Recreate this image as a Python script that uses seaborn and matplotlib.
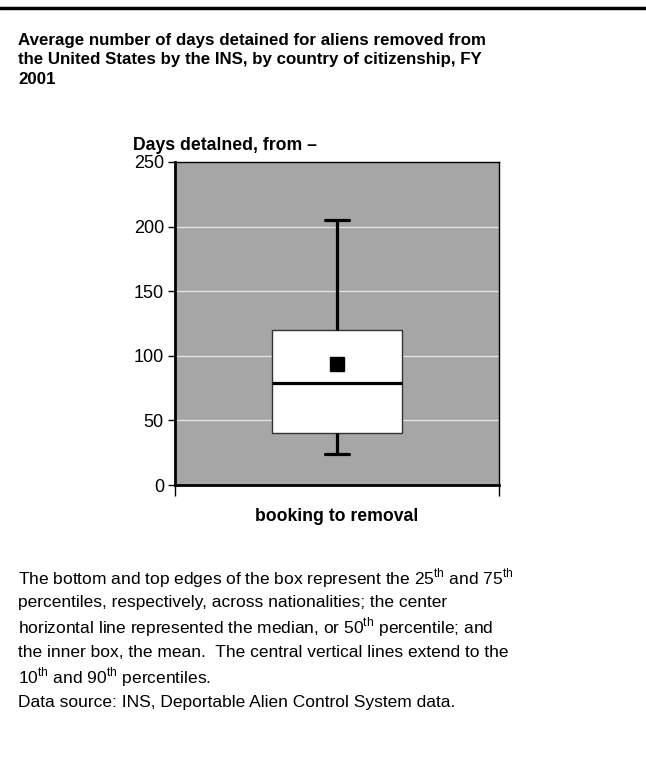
import matplotlib
matplotlib.use('Agg')
import matplotlib.pyplot as plt
from matplotlib.lines import Line2D
import seaborn as sns
import pandas as pd

# Values (days detained, booking to removal)
category = 'booking to removal'
p10 = 24
p25 = 40
p50 = 79
p75 = 120
p90 = 205
mean_days = 93.5

title_lines = [
    'Average number of days detained for aliens removed from',
    'the United States by the INS, by country of citizenship, FY',
    '2001',
]
note_lines = [
    r'The bottom and top edges of the box represent the 25$^{\mathrm{th}}$ and 75$^{\mathrm{th}}$',
    'percentiles, respectively, across nationalities; the center',
    r'horizontal line represented the median, or 50$^{\mathrm{th}}$ percentile; and',
    'the inner box, the mean.  The central vertical lines extend to the',
    r'10$^{\mathrm{th}}$ and 90$^{\mathrm{th}}$ percentiles.',
    'Data source: INS, Deportable Alien Control System data.',
]
yticks = [0, 50, 100, 150, 200, 250]

# five summary points -> quartiles fall exactly on them, whiskers at min/max
df = pd.DataFrame({'cat': [category] * 5, 'days': [p10, p25, p50, p75, p90]})

sns.set_style('white')
plt.rcParams['font.family'] = ['Liberation Sans', 'DejaVu Sans']
plt.rcParams['mathtext.fontset'] = 'custom'
plt.rcParams['mathtext.rm'] = 'Liberation Sans'
plt.rcParams['text.color'] = 'black'
plt.rcParams['axes.labelcolor'] = 'black'
plt.rcParams['xtick.color'] = 'black'
plt.rcParams['ytick.color'] = 'black'

fig = plt.figure(figsize=(6.46, 7.58), dpi=100)
ax = fig.add_axes([175 / 646, 1 - 485 / 758, 324 / 646, 323 / 758])
ax.set_facecolor('#a6a6a6')

sns.boxplot(data=df, x='cat', y='days', whis=(0, 100), width=0.4, ax=ax,
            showfliers=False,
            boxprops={'facecolor': 'white', 'edgecolor': '#333333', 'linewidth': 1.0},
            medianprops={'color': 'black', 'linewidth': 2.3},
            whiskerprops={'color': 'black', 'linewidth': 2.3},
            capprops={'color': 'black', 'linewidth': 2.3})
# shorten caps to match the original
for ln in ax.lines:
    xs = ln.get_xdata()
    ys = ln.get_ydata()
    if len(xs) == 2 and ys[0] == ys[1] and ys[0] in (p10, p90):
        ln.set_xdata([-0.037, 0.037])

ax.plot([0], [mean_days], marker='s', color='black', markersize=10, linestyle='none')

ax.set_xlim(-0.5, 0.5)
ax.set_ylim(0, 250)
ax.set_yticks(yticks)
ax.set_yticklabels([str(t) for t in yticks], fontsize=13)
ax.set_xticks([-0.5, 0.5])
ax.set_xticklabels(['', ''])
ax.tick_params(axis='y', direction='out', length=5, width=1, left=True, pad=3)
ax.tick_params(axis='x', direction='out', length=8, width=1, bottom=True)
for y in [50, 100, 150, 200]:
    ax.axhline(y, color='#e6e6e6', linewidth=0.9, zorder=0.5)
ax.set_axisbelow(True)

for side in ['left', 'bottom']:
    ax.spines[side].set_linewidth(2)
    ax.spines[side].set_color('black')
for side in ['top', 'right']:
    ax.spines[side].set_linewidth(1)
    ax.spines[side].set_color('black')

ax.set_xlabel(category, fontsize=12.7, fontweight='bold', labelpad=5)
ax.set_ylabel('')
fig.text(133 / 646, 1 - 145 / 758, 'Days detalned, from \u2013', fontsize=12.7,
         fontweight='bold', va='center', ha='left')

# top rule
fig.add_artist(Line2D([0, 1], [1 - 8 / 758, 1 - 8 / 758], color='black', linewidth=2.5,
                      transform=fig.transFigure))

for i, line in enumerate(title_lines):
    fig.text(18 / 646, 1 - (40 + 19.5 * i) / 758, line, fontsize=12.2,
             fontweight='bold', va='center', ha='left')

for i, line in enumerate(note_lines):
    fig.text(18 / 646, 1 - (578 + 24.8 * i) / 758, line, fontsize=12.5,
             va='center', ha='left')

fig.savefig('out.png', dpi=100)
